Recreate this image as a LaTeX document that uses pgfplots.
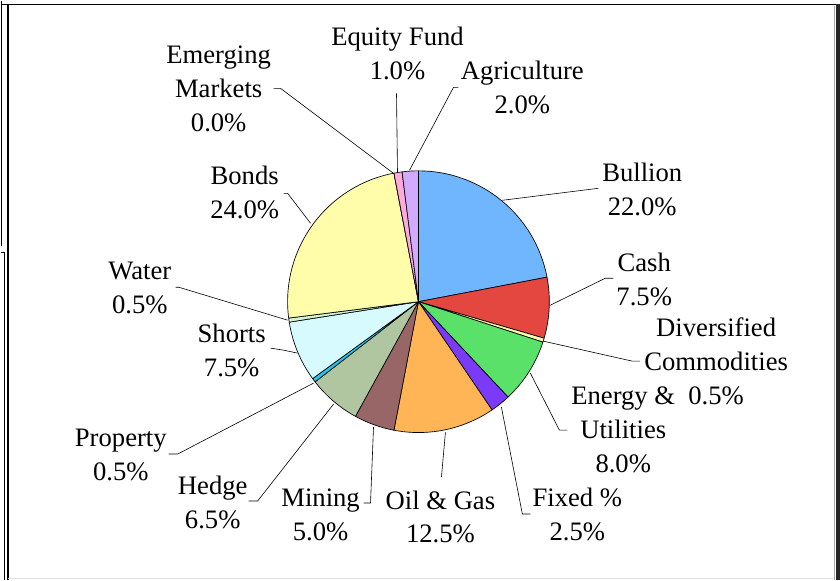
\documentclass[border=0pt]{standalone}
\usepackage{pgfplots}
\usepackage{pgfplotstable}
\pgfplotsset{compat=1.18}
\usepackage{fontspec}
\setmainfont{Liberation Serif}

\definecolor{cBullion}{RGB}{112,182,255}
\definecolor{cCash}{RGB}{228,70,64}
\definecolor{cDivers}{RGB}{255,250,170}
\definecolor{cEnergy}{RGB}{90,225,105}
\definecolor{cFixed}{RGB}{122,58,248}
\definecolor{cOil}{RGB}{255,180,85}
\definecolor{cMining}{RGB}{152,102,102}
\definecolor{cHedge}{RGB}{176,198,160}
\definecolor{cProperty}{RGB}{30,200,240}
\definecolor{cShorts}{RGB}{215,250,255}
\definecolor{cWater}{RGB}{210,245,210}
\definecolor{cBonds}{RGB}{255,252,170}
\definecolor{cEmerging}{RGB}{200,200,200}
\definecolor{cEquity}{RGB}{255,170,220}
\definecolor{cAgri}{RGB}{210,170,255}

\tikzset{lbl/.style={font=\fontsize{20}{25.5}\selectfont, align=center, inner sep=0pt}}

% slices clockwise from 12 o'clock
\pgfplotstableread[col sep=comma]{
name,value,colour
Bullion,22.0,cBullion
Cash,7.5,cCash
DiversifiedCommodities,0.5,cDivers
EnergyUtilities,8.0,cEnergy
FixedPct,2.5,cFixed
OilGas,12.5,cOil
Mining,5.0,cMining
Hedge,6.5,cHedge
Property,0.5,cProperty
Shorts,7.5,cShorts
Water,0.5,cWater
Bonds,24.0,cBonds
EmergingMarkets,0.0,cEmerging
EquityFund,1.0,cEquity
Agriculture,2.0,cAgri
}\piedata

\begin{document}
\begin{tikzpicture}
\begin{axis}[
  scale only axis, width=630pt, height=435pt,
  xmin=0, xmax=840, ymin=0, ymax=580,
  hide axis, clip=false,
]
\fill[white] (axis cs:0,0) rectangle (axis cs:840,580);
\def\cum{0}
\pgfplotsforeachungrouped \i in {0,...,14}{%
  \pgfplotstablegetelem{\i}{value}\of\piedata \let\v\pgfplotsretval
  \pgfplotstablegetelem{\i}{colour}\of\piedata \let\c\pgfplotsretval
  \pgfmathsetmacro\aS{90-3.6*\cum}%
  \pgfmathsetmacro\aE{90-3.6*(\cum+\v)}%
  \pgfmathsetmacro\cum{\cum+\v}%
  \edef\temp{\noexpand\filldraw[fill=\c, draw=black, line width=0.5pt, line join=round]
    (axis cs:418,278.5) -- ++(\aS:98.25pt) arc[start angle=\aS, end angle=\aE, radius=98.25pt] -- cycle;}%
  \temp
}

% leader lines
\addplot[black, line width=0.45pt, no marks] coordinates {(273,492)(280,492)(393,407)};
\addplot[black, line width=0.45pt, no marks] coordinates {(396,487)(397,408)};
\addplot[black, line width=0.45pt, no marks] coordinates {(458,493)(453,493)(409,410)};
\addplot[black, line width=0.45pt, no marks] coordinates {(598,392)(502,380)};
\addplot[black, line width=0.45pt, no marks] coordinates {(613,302)(605,302)(550,275)};
\addplot[black, line width=0.45pt, no marks] coordinates {(640,219)(632,219)(543,239)};
\addplot[black, line width=0.45pt, no marks] coordinates {(567,150)(559,150)(530,207)};
\addplot[black, line width=0.45pt, no marks] coordinates {(530,66)(522,66)(501,173)};
\addplot[black, line width=0.45pt, no marks] coordinates {(441,103)(445,148)};
\addplot[black, line width=0.45pt, no marks] coordinates {(363,77)(370,77)(373,153)};
\addplot[black, line width=0.45pt, no marks] coordinates {(248,79)(257,79)(333,176)};
\addplot[black, line width=0.45pt, no marks] coordinates {(168,126)(177,126)(313,197)};
\addplot[black, line width=0.45pt, no marks] coordinates {(270,232)(283,230)(297,227)};
\addplot[black, line width=0.45pt, no marks] coordinates {(175,293)(178,293)(287,260)};
\addplot[black, line width=0.45pt, no marks] coordinates {(283,387)(287,387)(310,357)};

% labels
\node[lbl] at (axis cs:218,492) {Emerging\\Markets\\0.0\%};
\node[lbl] at (axis cs:397,527.5) {Equity Fund\\1.0\%};
\node[lbl] at (axis cs:522,493) {Agriculture\\2.0\%};
\node[lbl] at (axis cs:642,391) {Bullion\\22.0\%};
\node[lbl] at (axis cs:644,301) {Cash\\7.5\%};
\node[lbl] at (axis cs:716,219) {Diversified\\Commodities\\0.5\%};
\node[lbl] at (axis cs:623,150) {Energy \&\\Utilities\\8.0\%};
\node[lbl] at (axis cs:577,65.5) {Fixed \%\\2.5\%};
\node[lbl] at (axis cs:440,63) {Oil \& Gas\\12.5\%};
\node[lbl] at (axis cs:320,65.5) {Mining\\5.0\%};
\node[lbl] at (axis cs:212,78) {Hedge\\6.5\%};
\node[lbl] at (axis cs:120,125.5) {Property\\0.5\%};
\node[lbl] at (axis cs:231,230) {Shorts\\7.5\%};
\node[lbl] at (axis cs:139,292.5) {Water\\0.5\%};
\node[lbl] at (axis cs:244,387.5) {Bonds\\24.0\%};

% frame
\draw[line width=1.4pt] (axis cs:0,576) -- (axis cs:836,576);
\fill[black!85] (axis cs:836,577) rectangle (axis cs:840,0);
\draw[gray!70, line width=0.5pt] (axis cs:834,575) -- (axis cs:834,0);
\draw[line width=1.1pt] (axis cs:7,576) -- (axis cs:7,0);
\draw[line width=0.8pt] (axis cs:1,580) -- (axis cs:1,334);
\draw[line width=0.6pt] (axis cs:0,328) -- (axis cs:3,328) -- (axis cs:3,0);
\draw[gray!25, line width=0.6pt] (axis cs:7,1) -- (axis cs:834,1);
\end{axis}
\end{tikzpicture}
\end{document}
